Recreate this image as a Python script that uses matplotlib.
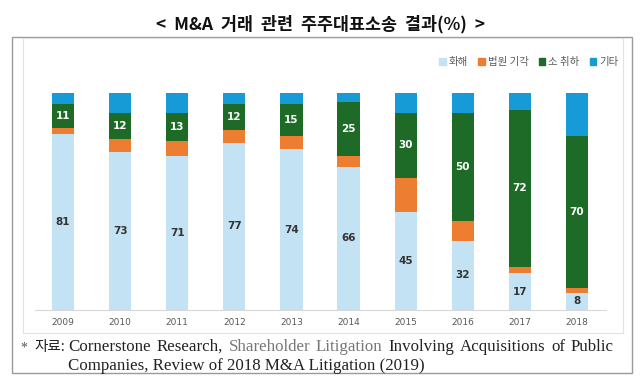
import matplotlib.pyplot as plt
from matplotlib.patches import Rectangle, Patch

years = ['2009', '2010', '2011', '2012', '2013', '2014', '2015', '2016', '2017', '2018']
settled = [81, 73, 71, 77, 74, 66, 45, 32, 17, 8]
dismissed = [3, 6, 7, 6, 6, 5, 16, 9, 3, 2]
withdrawn = [11, 12, 13, 12, 15, 25, 30, 50, 72, 70]
other = [5, 9, 9, 5, 5, 4, 9, 9, 8, 20]
series_names = ['화해', '법원 기각', '소 취하', '기타']
colors = ['#c3e2f3', '#ed7d31', '#1e6b27', '#179bd7']

W, H = 640, 382
kr = ['Noto Sans CJK KR', 'DejaVu Sans']
serif = ['Liberation Serif', 'Noto Sans CJK KR']

fig = plt.figure(figsize=(W / 100, H / 100), dpi=100)


def fx(px):
    return px / W


def fy(py):
    return 1 - py / H


# boxes
fig.patches.append(Rectangle((fx(12), fy(373)), fx(620), fy(37) - fy(373),
                             transform=fig.transFigure, fill=False, ec='#9a9a9a', lw=1.0))
fig.patches.append(Rectangle((fx(23), fy(333)), fx(600), fy(38) - fy(333),
                             transform=fig.transFigure, fill=False, ec='#e2e2e2', lw=0.8))

fig.text(0.5, fy(24), '<  M&A  거래  관련  주주대표소송  결과(%)  >', ha='center', va='center',
         fontsize=12.5, fontweight='bold', family=kr, color='#111111')

ax = fig.add_axes([fx(34.5), fy(310), fx(571), fy(93) - fy(310)])
x = range(len(years))
bw = 0.39
bottom = [0] * len(years)
for vals, c in zip([settled, dismissed, withdrawn, other], colors):
    ax.bar(x, vals, bw, bottom=bottom, color=c, lw=0)
    bottom = [b + v for b, v in zip(bottom, vals)]

for i in x:
    ax.text(i, settled[i] / 2, str(settled[i]), ha='center', va='center',
            fontsize=7.5, fontweight='bold', color='#333333')
    ax.text(i, settled[i] + dismissed[i] + withdrawn[i] / 2, str(withdrawn[i]),
            ha='center', va='center', fontsize=7.5, fontweight='bold', color='white')

ax.set_xlim(-0.5, len(years) - 0.5)
ax.set_ylim(0, 100)
ax.set_xticks(list(x))
ax.set_xticklabels(years, fontsize=6.5, color='#595959')
ax.tick_params(axis='x', length=0, pad=6)
ax.set_yticks([])
for s in ['top', 'left', 'right']:
    ax.spines[s].set_visible(False)
ax.spines['bottom'].set_color('#d9d9d9')
ax.spines['bottom'].set_linewidth(0.8)

handles = [Patch(color=c) for c in colors]
fig.legend(handles, series_names, loc='center right', bbox_to_anchor=(fx(628), fy(62)),
           ncol=4, frameon=False, handlelength=0.6, handleheight=0.6, handletextpad=0.3,
           columnspacing=1.0, prop={'family': kr, 'size': 7.5}, labelcolor='#595959')

# footnote
fig.text(fx(20), fy(348), '*', ha='left', va='center', fontsize=10, color='#555555', family=serif)
fig.text(fx(34), fy(347), '자료:', ha='left', va='center', fontsize=10.5, color='#222222', family=kr)

words = ['Cornerstone', 'Research,', 'Shareholder', 'Litigation', 'Involving',
         'Acquisitions', 'of', 'Public']
wcolors = ['#222222', '#222222', '#777777', '#777777', '#222222', '#222222', '#222222', '#222222']
renderer = fig.canvas.get_renderer()
texts = []
for w, c in zip(words, wcolors):
    t = fig.text(0, fy(347), w, ha='left', va='center', fontsize=12.2, color=c, family=serif)
    texts.append(t)
widths = [t.get_window_extent(renderer).width for t in texts]
x0, x1 = 68, 614
gap = (x1 - x0 - sum(widths)) / (len(words) - 1)
pos = x0
for t, w in zip(texts, widths):
    t.set_x(fx(pos))
    pos += w + gap

fig.text(fx(68), fy(366), 'Companies, Review of 2018 M&A Litigation (2019)', ha='left', va='center',
         fontsize=12.2, color='#222222', family=serif)

fig.savefig('out.png', dpi=100)
